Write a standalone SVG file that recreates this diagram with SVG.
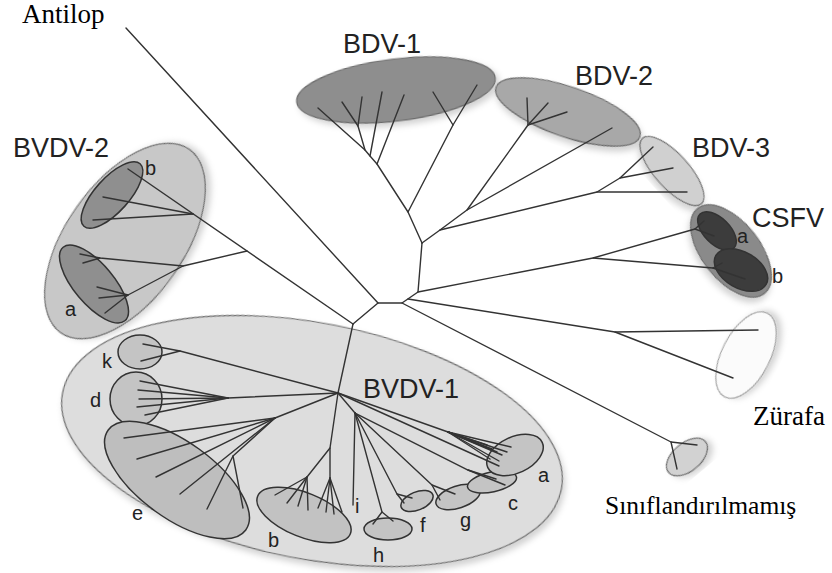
<svg xmlns="http://www.w3.org/2000/svg" width="832" height="573" viewBox="0 0 832 573">
<defs>
<filter id="sh" x="-20%" y="-20%" width="140%" height="140%"><feDropShadow dx="3" dy="4" stdDeviation="3" flood-color="#000" flood-opacity="0.18"/></filter>
<style>
.sans{font-family:"Liberation Sans",Arial,sans-serif;fill:#222}
.big{font-size:27px}
.sm{font-size:20px}
.serif{font-family:"Liberation Serif","Times New Roman",serif;fill:#000}
.br{fill:none;stroke:#333;stroke-width:1.4;stroke-linecap:round;stroke-linejoin:round}
.ol{stroke:#6a6a6a;stroke-width:1.2}
.dk{stroke:#333;stroke-width:1.5}
</style>
</defs>
<rect width="832" height="573" fill="#fff"/>

<g id="bvdv1">
<ellipse cx="312" cy="441" rx="254" ry="118" transform="rotate(11 312 441)" fill="#dddddd" class="ol" filter="url(#sh)"/>
<ellipse cx="140" cy="352" rx="22" ry="17" fill="#c4c4c4" class="dk"/>
<ellipse cx="136" cy="399" rx="26" ry="27" fill="#c4c4c4" class="dk"/>
<ellipse cx="177" cy="480" rx="85" ry="38" transform="rotate(36 177 480)" fill="#bebebe" class="dk"/>
<ellipse cx="304" cy="515" rx="50" ry="22" transform="rotate(22 304 515)" fill="#c2c2c2" class="dk"/>
<ellipse cx="388" cy="529" rx="24" ry="11" fill="#c4c4c4" class="dk"/>
<ellipse cx="417" cy="501" rx="17" ry="9" transform="rotate(-22 417 501)" fill="#c4c4c4" class="dk"/>
<ellipse cx="458" cy="497" rx="23" ry="11" transform="rotate(-18 458 497)" fill="#c4c4c4" class="dk"/>
<ellipse cx="492" cy="482" rx="25" ry="10" transform="rotate(-12 492 482)" fill="#c4c4c4" class="dk"/>
<ellipse cx="515" cy="455" rx="30" ry="18" transform="rotate(-25 515 455)" fill="#c4c4c4" class="dk"/>
<text class="sans big" x="363" y="398">BVDV-1</text>
<text class="sans sm" x="102" y="368">k</text>
<text class="sans sm" x="90" y="407">d</text>
<text class="sans sm" x="132" y="520">e</text>
<text class="sans sm" x="268" y="547">b</text>
<text class="sans sm" x="355" y="513">i</text>
<text class="sans sm" x="373" y="562">h</text>
<text class="sans sm" x="420" y="532">f</text>
<text class="sans sm" x="460" y="527">g</text>
<text class="sans sm" x="508" y="510">c</text>
<text class="sans sm" x="538" y="482">a</text>
</g>

<g id="bvdv2">
<ellipse cx="125" cy="241" rx="112" ry="59" transform="rotate(-55 125 241)" fill="#c8c8c8" class="ol" filter="url(#sh)"/>
<ellipse cx="112" cy="195" rx="42" ry="17" transform="rotate(-48 112 195)" fill="#8f8f8f" class="dk"/>
<ellipse cx="94" cy="284" rx="48" ry="20" transform="rotate(50 94 284)" fill="#8f8f8f" class="dk"/>
<text class="sans big" x="13" y="157">BVDV-2</text>
<text class="sans sm" x="145" y="175">b</text>
<text class="sans sm" x="65" y="316">a</text>
</g>

<g id="bdv1">
<ellipse cx="396" cy="90" rx="100" ry="31" transform="rotate(-7 396 90)" fill="#8e8e8e" class="ol" filter="url(#sh)"/>
<text class="sans big" x="343" y="53">BDV-1</text>
</g>

<g id="bdv2">
<ellipse cx="568" cy="112" rx="76" ry="25" transform="rotate(19 568 112)" fill="#a8a8a8" class="ol" filter="url(#sh)"/>
<text class="sans big" x="575" y="85">BDV-2</text>
</g>

<g id="bdv3">
<ellipse cx="672" cy="171" rx="44" ry="17" transform="rotate(48 672 171)" fill="#d0d0d0" class="ol" filter="url(#sh)"/>
<text class="sans big" x="692" y="157">BDV-3</text>
</g>

<g id="csfv">
<ellipse cx="731" cy="251" rx="54" ry="29" transform="rotate(52 731 251)" fill="#8a8a8a" class="ol" filter="url(#sh)"/>
<ellipse cx="717" cy="231" rx="24" ry="13" transform="rotate(45 717 231)" fill="#3c3c3c" class="dk"/>
<ellipse cx="741" cy="270" rx="29" ry="18" transform="rotate(30 741 270)" fill="#3c3c3c" class="dk"/>
<text class="sans big" x="752" y="227">CSFV</text>
<text class="sans sm" x="737" y="243">a</text>
<text class="sans sm" x="772" y="283">b</text>
</g>

<g id="zurafa">
<ellipse cx="746" cy="355" rx="47" ry="24" transform="rotate(-63 746 355)" fill="#fbfbfb" stroke="#a0a0a0" stroke-width="1.2" filter="url(#sh)"/>
<text class="serif" font-size="27" x="753" y="425">Zürafa</text>
</g>

<g id="siniflandirilmamis">
<ellipse cx="687" cy="457" rx="24" ry="14" transform="rotate(-40 687 457)" fill="#d2d2d2" class="ol" filter="url(#sh)"/>
<text class="serif" font-size="25.5" x="605" y="514">Sınıflandırılmamış</text>
</g>

<g id="antilop">
<text class="serif" font-size="27" x="22" y="23">Antilop</text>
</g>

<g id="connectors" class="br">
<!-- center -->
<polyline points="353,324 378,303 402,303 418,292 422,243"/>
<line x1="126" y1="28" x2="378" y2="303"/>
<!-- Sınıflandırılmamış -->
<polyline points="402,303 671,442 697,445"/>
<line x1="671" y1="442" x2="677" y2="469"/>
<!-- Zürafa -->
<polyline points="408,299 615,332 758,330"/>
<line x1="615" y1="332" x2="733" y2="378"/>
<!-- CSFV -->
<polyline points="418,292 593,258 695,229 704,221"/>
<line x1="695" y1="229" x2="714" y2="236"/>
<polyline points="593,258 713,268 722,263"/>
<line x1="713" y1="268" x2="745" y2="279"/>
<!-- BDV-1 -->
<polyline points="422,243 408,212 377,164 370,156 365,150 318,108"/>
<line x1="377" y1="164" x2="404" y2="95"/>
<line x1="370" y1="156" x2="382" y2="92"/>
<polyline points="365,150 358,126 362,97"/>
<line x1="358" y1="126" x2="342" y2="102"/>
<polyline points="408,212 453,125 477,85"/>
<line x1="453" y1="125" x2="433" y2="92"/>
<!-- BDV-2 -->
<polyline points="422,243 440,230 467,210 528,125 527,98"/>
<line x1="528" y1="125" x2="548" y2="103"/>
<line x1="528" y1="125" x2="567" y2="112"/>
<line x1="467" y1="210" x2="612" y2="128"/>
<!-- BDV-3 -->
<polyline points="440,230 597,192 687,192"/>
<polyline points="597,192 620,178 653,147"/>
<line x1="620" y1="178" x2="673" y2="168"/>
<!-- BVDV-2 -->
<line x1="353" y1="324" x2="128" y2="169"/>
<line x1="193" y1="214" x2="103" y2="197"/>
<line x1="193" y1="214" x2="93" y2="220"/>
<polyline points="247,251 183,266 100,258 80,254"/>
<line x1="100" y1="258" x2="83" y2="263"/>
<polyline points="183,266 128,295 97,287"/>
<line x1="128" y1="295" x2="99" y2="298"/>
<line x1="128" y1="295" x2="105" y2="313"/>
<!-- BVDV-1 trunk -->
<line x1="353" y1="324" x2="338" y2="393"/>
<!-- k -->
<polyline points="338,393 180,351 143,344"/>
<line x1="180" y1="351" x2="141" y2="361"/>
<!-- d -->
<line x1="338" y1="393" x2="228" y2="398"/>
<line x1="228" y1="398" x2="140" y2="381"/>
<line x1="228" y1="398" x2="138" y2="390"/>
<line x1="228" y1="398" x2="139" y2="399"/>
<line x1="228" y1="398" x2="137" y2="407"/>
<line x1="228" y1="398" x2="145" y2="415"/>
<!-- e -->
<line x1="338" y1="393" x2="275" y2="418"/>
<line x1="275" y1="418" x2="124" y2="438"/>
<line x1="275" y1="418" x2="137" y2="459"/>
<line x1="275" y1="418" x2="156" y2="477"/>
<line x1="275" y1="418" x2="180" y2="494"/>
<polyline points="275,418 233,456 207,509"/>
<line x1="233" y1="456" x2="243" y2="508"/>
<!-- b -->
<polyline points="338,393 330,448 307,477 275,495"/>
<line x1="307" y1="477" x2="287" y2="503"/>
<line x1="307" y1="477" x2="298" y2="506"/>
<line x1="307" y1="477" x2="308" y2="510"/>
<polyline points="330,448 330,478 318,508"/>
<line x1="330" y1="478" x2="326" y2="512"/>
<line x1="330" y1="478" x2="334" y2="514"/>
<line x1="330" y1="478" x2="342" y2="512"/>
<!-- right fan -->
<line x1="338" y1="393" x2="355" y2="413"/>
<line x1="355" y1="413" x2="353" y2="505"/>
<polyline points="355,413 382,512 373,524"/>
<line x1="382" y1="512" x2="393" y2="521"/>
<polyline points="355,413 397,494 404,503"/>
<line x1="397" y1="494" x2="412" y2="498"/>
<polyline points="355,413 432,485 440,500"/>
<line x1="432" y1="485" x2="455" y2="494"/>
<polyline points="355,413 468,470 496,479"/>
<line x1="468" y1="470" x2="505" y2="485"/>
<line x1="338" y1="393" x2="499" y2="466"/>
<line x1="338" y1="393" x2="448" y2="432"/>
<line x1="448" y1="432" x2="487" y2="445"/>
<line x1="448" y1="432" x2="492" y2="449"/>
<line x1="448" y1="432" x2="497" y2="452"/>
<line x1="448" y1="432" x2="502" y2="455"/>
<line x1="448" y1="432" x2="507" y2="452"/>
<line x1="448" y1="432" x2="511" y2="447"/>
<line x1="448" y1="432" x2="499" y2="461"/>
<line x1="448" y1="432" x2="490" y2="459"/>
</g>
</svg>
